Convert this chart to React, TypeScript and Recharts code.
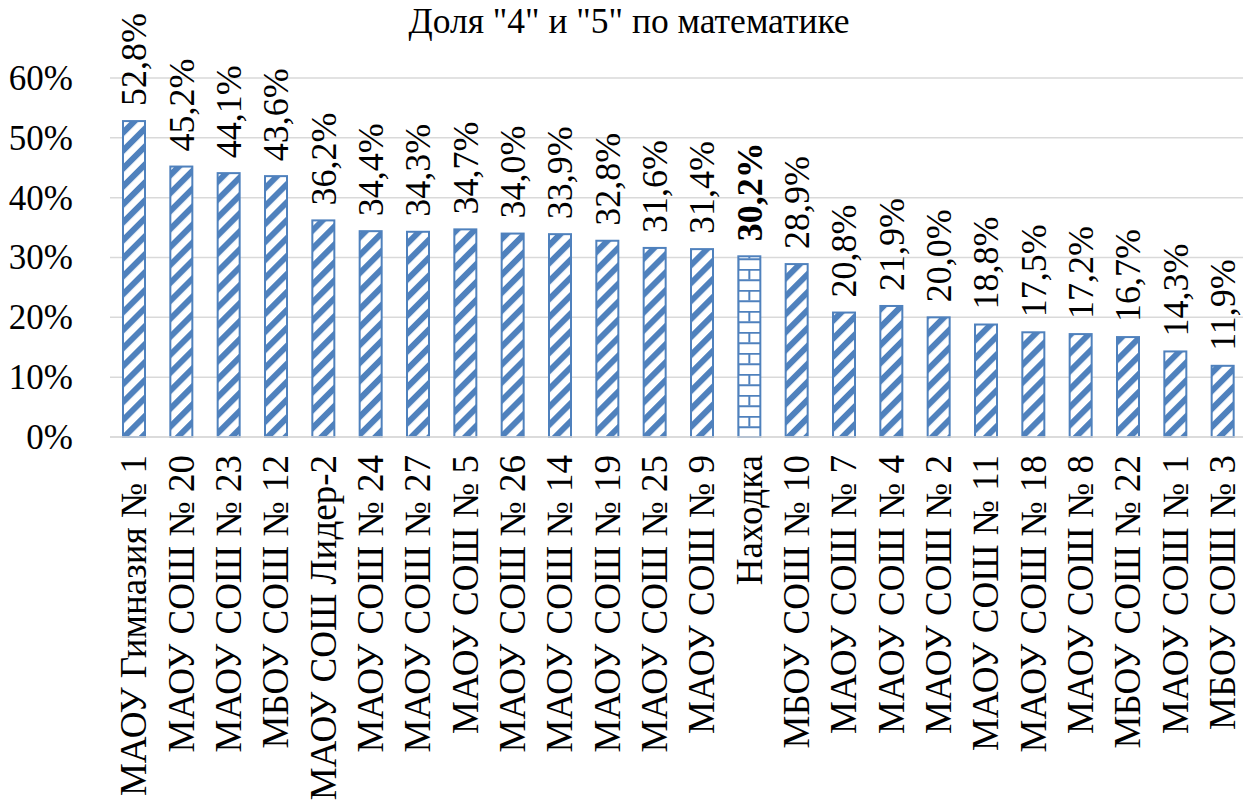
import React from "react";
import { BarChart, Bar, XAxis, YAxis, CartesianGrid, LabelList } from "recharts";

const categories = [
  "МАОУ Гимназия № 1",
  "МАОУ СОШ № 20",
  "МАОУ СОШ № 23",
  "МБОУ СОШ № 12",
  "МАОУ СОШ Лидер-2",
  "МАОУ СОШ № 24",
  "МАОУ СОШ № 27",
  "МАОУ СОШ № 5",
  "МАОУ СОШ № 26",
  "МАОУ СОШ № 14",
  "МАОУ СОШ № 19",
  "МАОУ СОШ № 25",
  "МАОУ СОШ № 9",
  "Находка",
  "МБОУ СОШ № 10",
  "МАОУ СОШ № 7",
  "МАОУ СОШ № 4",
  "МАОУ СОШ № 2",
  "МАОУ СОШ № 11",
  "МАОУ СОШ № 18",
  "МАОУ СОШ № 8",
  "МБОУ СОШ № 22",
  "МАОУ СОШ № 1",
  "МБОУ СОШ № 3",
];

const values = [
  52.8, 45.2, 44.1, 43.6, 36.2, 34.4, 34.3, 34.7, 34.0, 33.9, 32.8, 31.6, 31.4,
  30.2, 28.9, 20.8, 21.9, 20.0, 18.8, 17.5, 17.2, 16.7, 14.3, 11.9,
];

const yTicks = [0, 10, 20, 30, 40, 50, 60];
const highlight = "Находка";
const title = 'Доля "4" и "5" по математике';

const data = categories.map((name, i) => ({ name, value: values[i] }));

const FONT = "'Liberation Serif', 'Times New Roman', serif";
const BLUE = "#4F81BD";

const fmt = (v: number) => v.toFixed(1).replace(".", ",") + "%";

const BarShape = (props: any) => {
  const { x, y, width, height, payload, index } = props;
  if (height <= 0) return null;
  const isHi = payload && payload.name === highlight;
  const pid = `brick-${index}`;
  return (
    <g>
      {isHi && (
        <defs>
          <pattern
            id={pid}
            patternUnits="userSpaceOnUse"
            x={x}
            y={y + height}
            width={width}
            height={21}
          >
            <rect x={0} y={0} width={width} height={21} fill="#fff" />
            <line x1={0} y1={0.75} x2={width} y2={0.75} stroke={BLUE} strokeWidth={2} />
            <line x1={0} y1={11.25} x2={width} y2={11.25} stroke={BLUE} strokeWidth={2} />
            <line x1={width / 2} y1={0} x2={width / 2} y2={10.5} stroke={BLUE} strokeWidth={2} />
            <line x1={0} y1={10.5} x2={0} y2={21} stroke={BLUE} strokeWidth={2} />
          </pattern>
        </defs>
      )}
      <rect
        x={x}
        y={y}
        width={width}
        height={height}
        fill={isHi ? `url(#${pid})` : "url(#stripes)"}
        stroke={BLUE}
        strokeWidth={2}
      />
    </g>
  );
};

const ValueLabel = (props: any) => {
  const { x, y, width, value, index } = props;
  const cx = x + width / 2;
  const bold = categories[index] === highlight;
  return (
    <text
      transform={`translate(${cx},${y - 15}) rotate(-90)`}
      textAnchor="start"
      dy="0.34em"
      style={{ fontFamily: FONT, fontSize: 36, fontWeight: bold ? "bold" : "normal" }}
      fill="#000"
    >
      {fmt(value)}
    </text>
  );
};

const CatTick = (props: any) => {
  const { x, y, payload } = props;
  return (
    <text
      transform={`translate(${x},${y + 18}) rotate(-90)`}
      textAnchor="end"
      dy="0.34em"
      style={{ fontFamily: FONT, fontSize: 37 }}
      fill="#000"
    >
      {payload.value}
    </text>
  );
};

const YTick = (props: any) => {
  const { x, y, payload } = props;
  return (
    <text
      x={x}
      y={y}
      textAnchor="end"
      dy="0.34em"
      style={{ fontFamily: FONT, fontSize: 35 }}
      fill="#000"
    >
      {`${payload.value}%`}
    </text>
  );
};

export default function App() {
  return (
    <div style={{ position: "absolute", left: 0, top: 0, width: 1243, height: 807, overflow: "hidden", background: "#fff", fontFamily: FONT }}>
      <div
        style={{
          position: "absolute",
          left: 0,
          width: 1258,
          top: 0,
          textAlign: "center",
          fontFamily: FONT,
          fontSize: 35.5,
          lineHeight: "42px",
          color: "#000",
        }}
      >
        {title}
      </div>
      <BarChart
        width={1250}
        height={807}
        data={data}
        margin={{ top: 78, right: 4, bottom: 0, left: 10 }}
        barSize={22}
      >
        <defs>
          <pattern
            id="stripes"
            patternUnits="userSpaceOnUse"
            width={12.7}
            height={12.7}
            patternTransform="rotate(45)"
          >
            <rect x={0} y={0} width={12.7} height={12.7} fill="#fff" />
            <rect x={0} y={0} width={6} height={12.7} fill={BLUE} />
          </pattern>
        </defs>
        <CartesianGrid vertical={false} stroke="#D9D9D9" strokeWidth={1.5} />
        <XAxis
          dataKey="name"
          interval={0}
          height={370}
          tickLine={false}
          tickSize={0}
          tickMargin={0}
          axisLine={{ stroke: "#D9D9D9", strokeWidth: 1.5 }}
          tick={<CatTick />}
        />
        <YAxis
          width={100}
          domain={[0, 60]}
          ticks={yTicks}
          interval={0}
          axisLine={false}
          tickLine={false}
          tickSize={0}
          tickMargin={37}
          tick={<YTick />}
        />
        <Bar dataKey="value" isAnimationActive={false} shape={<BarShape />}>
          <LabelList dataKey="value" content={<ValueLabel />} />
        </Bar>
      </BarChart>
    </div>
  );
}
